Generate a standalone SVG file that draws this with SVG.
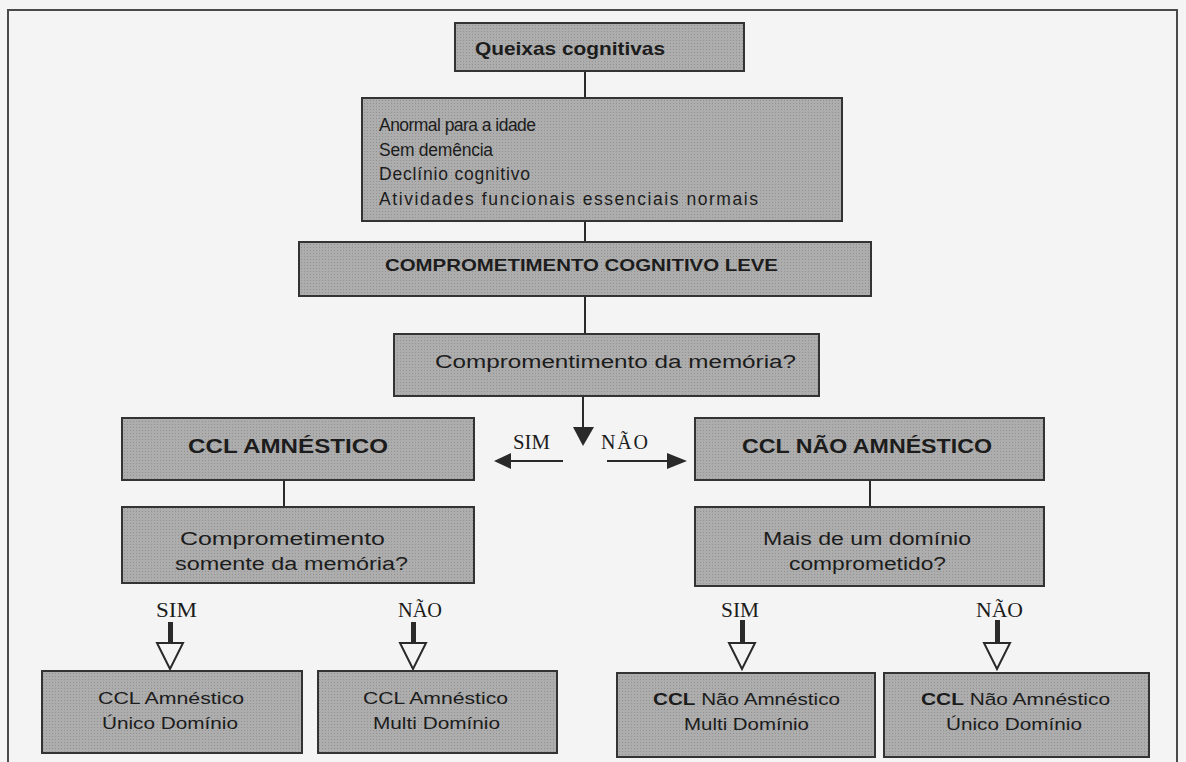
<svg xmlns="http://www.w3.org/2000/svg" width="1186" height="762" viewBox="0 0 1186 762">
<defs>
<pattern id="dots" width="3" height="3" patternUnits="userSpaceOnUse">
<rect width="3" height="3" fill="#adadad"/>
<rect x="1" y="1" width="1" height="1" fill="#929292"/>
</pattern>
<style>
.bg{fill:#f4f4f4}
.frame{fill:none;stroke:#4a4a4a;stroke-width:2}
.box{fill:url(#dots);stroke:#333;stroke-width:2}
.t{font-family:"Liberation Sans",Arial,sans-serif;fill:#1c1c1c}
.b{font-weight:bold}
.lbl{font-family:"Liberation Serif","Times New Roman",serif;font-size:20px;fill:#1c1c1c}
.ln{stroke:#2a2a2a;stroke-width:2;fill:none}
.sh{fill:#2a2a2a}
.hollow{fill:#f4f4f4;stroke:#2a2a2a;stroke-width:2;stroke-linejoin:miter}
</style>
</defs>
<rect class="bg" x="0" y="0" width="1186" height="762"/>
<path class="frame" d="M8,763 V10 H1177 V763"/>

<g id="connectors">
<line class="ln" x1="585" y1="71" x2="585" y2="98"/>
<line class="ln" x1="585" y1="221" x2="585" y2="242"/>
<line class="ln" x1="585" y1="296" x2="585" y2="334"/>
<line class="ln" x1="583" y1="396" x2="583" y2="430"/>
<polygon class="sh" points="573,427 594,427 583,446"/>
<line class="ln" x1="563" y1="461" x2="508" y2="461"/>
<polygon class="sh" points="511,453 511,469 494,461"/>
<line class="ln" x1="607" y1="461" x2="670" y2="461"/>
<polygon class="sh" points="667,453 667,469 687,461"/>
<line class="ln" x1="284" y1="480" x2="284" y2="507"/>
<line class="ln" x1="870" y1="480" x2="870" y2="507"/>
<g id="arrow-a">
<rect class="sh" x="168" y="622" width="5" height="22"/>
<polygon class="hollow" points="157,643 183,643 170,669"/>
</g>
<g id="arrow-b">
<rect class="sh" x="411" y="622" width="5" height="22"/>
<polygon class="hollow" points="400,643 426,643 413,669"/>
</g>
<g id="arrow-c">
<rect class="sh" x="740" y="620" width="5" height="23"/>
<polygon class="hollow" points="729,643 755,643 742,669"/>
</g>
<g id="arrow-d">
<rect class="sh" x="995" y="620" width="5" height="23"/>
<polygon class="hollow" points="984,643 1010,643 997,669"/>
</g>
<text class="lbl" x="513" y="449" textLength="37" lengthAdjust="spacingAndGlyphs">SIM</text>
<text class="lbl" x="601" y="449" textLength="47" lengthAdjust="spacing">NÃO</text>
<text class="lbl" x="156" y="617" textLength="41" lengthAdjust="spacingAndGlyphs">SIM</text>
<text class="lbl" x="398" y="617" textLength="44" lengthAdjust="spacingAndGlyphs">NÃO</text>
<text class="lbl" x="721" y="617" textLength="38" lengthAdjust="spacingAndGlyphs">SIM</text>
<text class="lbl" x="976" y="617" textLength="47" lengthAdjust="spacingAndGlyphs">NÃO</text>
</g>

<g id="queixas">
<rect class="box" x="455" y="23" width="289" height="48"/>
<text class="t b" x="475" y="55" font-size="19" textLength="190" lengthAdjust="spacingAndGlyphs">Queixas cognitivas</text>
</g>

<g id="criterios">
<rect class="box" x="362" y="98" width="480" height="123"/>
<text class="t" x="379" y="131" font-size="17.5" textLength="157" lengthAdjust="spacing">Anormal para a idade</text>
<text class="t" x="379" y="156" font-size="17.5" textLength="114" lengthAdjust="spacing">Sem demência</text>
<text class="t" x="379" y="180" font-size="17.5" textLength="151" lengthAdjust="spacing">Declínio cognitivo</text>
<text class="t" x="379" y="205" font-size="17.5" textLength="379" lengthAdjust="spacing">Atividades funcionais essenciais normais</text>
</g>

<g id="ccl">
<rect class="box" x="299" y="242" width="572" height="54"/>
<text class="t b" x="385" y="271" font-size="17" textLength="393" lengthAdjust="spacingAndGlyphs">COMPROMETIMENTO COGNITIVO LEVE</text>
</g>

<g id="memoria">
<rect class="box" x="394" y="334" width="425" height="62"/>
<text class="t" x="435" y="368" font-size="18" textLength="361" lengthAdjust="spacingAndGlyphs">Compromentimento da memória?</text>
</g>

<g id="ccl-amnestico">
<rect class="box" x="122" y="418" width="352" height="62"/>
<text class="t b" x="188" y="453" font-size="21" textLength="200" lengthAdjust="spacingAndGlyphs">CCL  AMNÉSTICO</text>
</g>

<g id="ccl-nao-amnestico">
<rect class="box" x="695" y="418" width="349" height="62"/>
<text class="t b" x="742" y="453" font-size="21" textLength="250" lengthAdjust="spacingAndGlyphs">CCL NÃO AMNÉSTICO</text>
</g>

<g id="somente-memoria">
<rect class="box" x="122" y="507" width="352" height="76"/>
<text class="t" x="180" y="545" font-size="18" textLength="205" lengthAdjust="spacingAndGlyphs">Comprometimento</text>
<text class="t" x="175" y="570" font-size="18" textLength="233" lengthAdjust="spacingAndGlyphs">somente da memória?</text>
</g>

<g id="mais-de-um">
<rect class="box" x="695" y="507" width="349" height="79"/>
<text class="t" x="763" y="545" font-size="18" textLength="208" lengthAdjust="spacingAndGlyphs">Mais de um domínio</text>
<text class="t" x="789" y="570" font-size="18" textLength="157" lengthAdjust="spacingAndGlyphs">comprometido?</text>
</g>

<g id="amn-unico">
<rect class="box" x="42" y="671" width="260" height="82"/>
<text class="t" x="98" y="704" font-size="17" textLength="146" lengthAdjust="spacingAndGlyphs">CCL Amnéstico</text>
<text class="t" x="102" y="729" font-size="17" textLength="136" lengthAdjust="spacingAndGlyphs">Único Domínio</text>
</g>

<g id="amn-multi">
<rect class="box" x="318" y="671" width="239" height="82"/>
<text class="t" x="363" y="704" font-size="17" textLength="145" lengthAdjust="spacingAndGlyphs">CCL Amnéstico</text>
<text class="t" x="373" y="729" font-size="17" textLength="127" lengthAdjust="spacingAndGlyphs">Multi Domínio</text>
</g>

<g id="nao-amn-multi">
<rect class="box" x="617" y="673" width="258" height="84"/>
<text class="t" x="653" y="705" font-size="17" textLength="187" lengthAdjust="spacingAndGlyphs"><tspan class="b">CCL</tspan> Não Amnéstico</text>
<text class="t" x="684" y="730" font-size="17" textLength="125" lengthAdjust="spacingAndGlyphs">Multi Domínio</text>
</g>

<g id="nao-amn-unico">
<rect class="box" x="884" y="673" width="265" height="84"/>
<text class="t" x="921" y="705" font-size="17" textLength="189" lengthAdjust="spacingAndGlyphs"><tspan class="b">CCL</tspan> Não Amnéstico</text>
<text class="t" x="946" y="730" font-size="17" textLength="136" lengthAdjust="spacingAndGlyphs">Único Domínio</text>
</g>
</svg>
